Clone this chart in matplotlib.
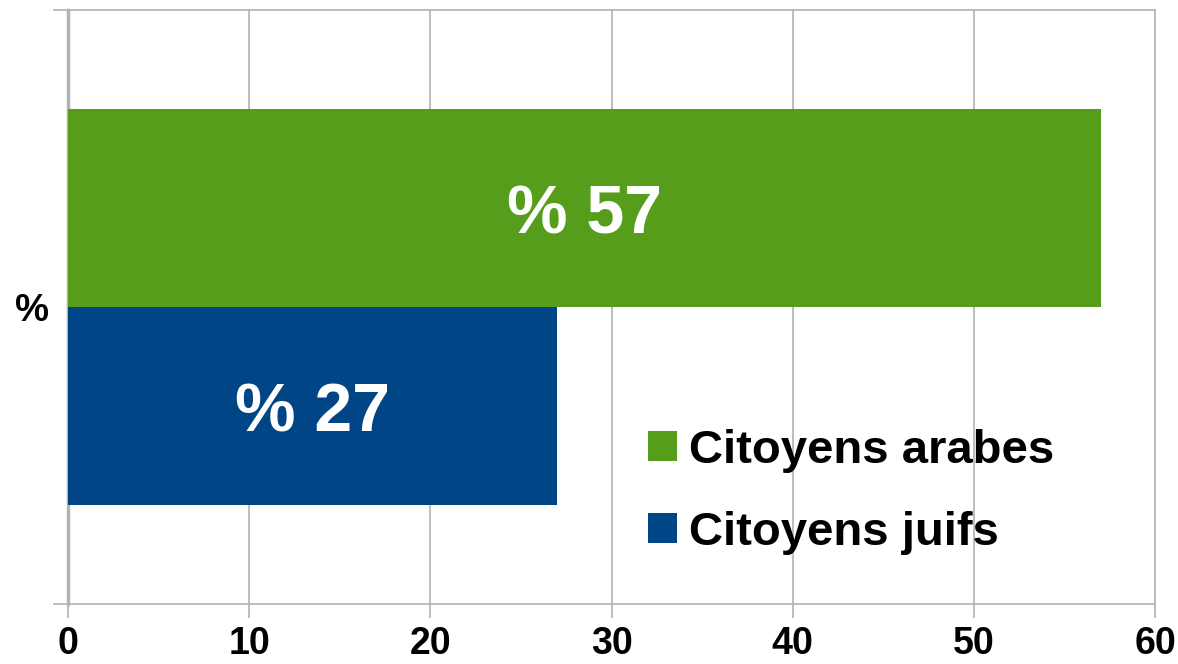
import matplotlib.pyplot as plt
from matplotlib.patches import Patch

# data
category = "%"
series_names = ["Citoyens arabes", "Citoyens juifs"]
series_values = [57, 27]
series_colors = ["#579d1c", "#004586"]
x_ticks = [0, 10, 20, 30, 40, 50, 60]

plt.rcParams["font.family"] = ["Liberation Sans", "DejaVu Sans"]
plt.rcParams["font.weight"] = "bold"

fig = plt.figure(figsize=(11.78, 6.64), dpi=100)
ax = fig.add_axes([68 / 1178, 60 / 664, 1087 / 1178, 594 / 664])

# green bar above the category line, blue below
bar_h = 1 / 3
offsets = [bar_h / 2, -bar_h / 2]
for name, val, col, off in zip(series_names, series_values, series_colors, offsets):
    ax.barh(off, val, height=bar_h, color=col, zorder=3)
    ax.text(val / 2, off, "% " + str(val), color="white", fontsize=49,
            fontweight="bold", ha="center", va="center_baseline", zorder=4)

ax.set_xlim(0, 60)
ax.set_ylim(-0.5, 0.5)
ax.set_xticks(x_ticks)
ax.set_xticklabels([str(t) for t in x_ticks])
ax.set_yticks([0])
ax.set_yticklabels([category])
ax.set_yticks([-0.5, 0.5], minor=True)

ax.tick_params(axis="x", labelsize=27, length=10, width=1.2, color="#b3b3b3", pad=6)
ax.tick_params(axis="y", which="major", labelsize=27.5, length=0, pad=14)
ax.tick_params(axis="y", which="minor", length=11, width=1.2, color="#b3b3b3")
for lab in ax.get_xticklabels() + ax.get_yticklabels():
    lab.set_fontweight("bold")

ax.grid(axis="x", color="#b3b3b3", linewidth=1.2, zorder=0)
for side in ["top", "bottom", "right"]:
    ax.spines[side].set_color("#b3b3b3")
    ax.spines[side].set_linewidth(1.2)
ax.spines["left"].set_color("#b3b3b3")
ax.spines["left"].set_linewidth(2.5)

handles = [Patch(facecolor=c, label=n) for n, c in zip(series_names, series_colors)]
ax.legend(handles=handles, loc="upper left", bbox_to_anchor=(0.534, 0.295),
          frameon=False, handlelength=0.6, handleheight=0.6,
          handletextpad=0.25, labelspacing=0.8, borderpad=0, borderaxespad=0,
          prop={"weight": "bold", "size": 34})

fig.savefig("out.png", dpi=100)
